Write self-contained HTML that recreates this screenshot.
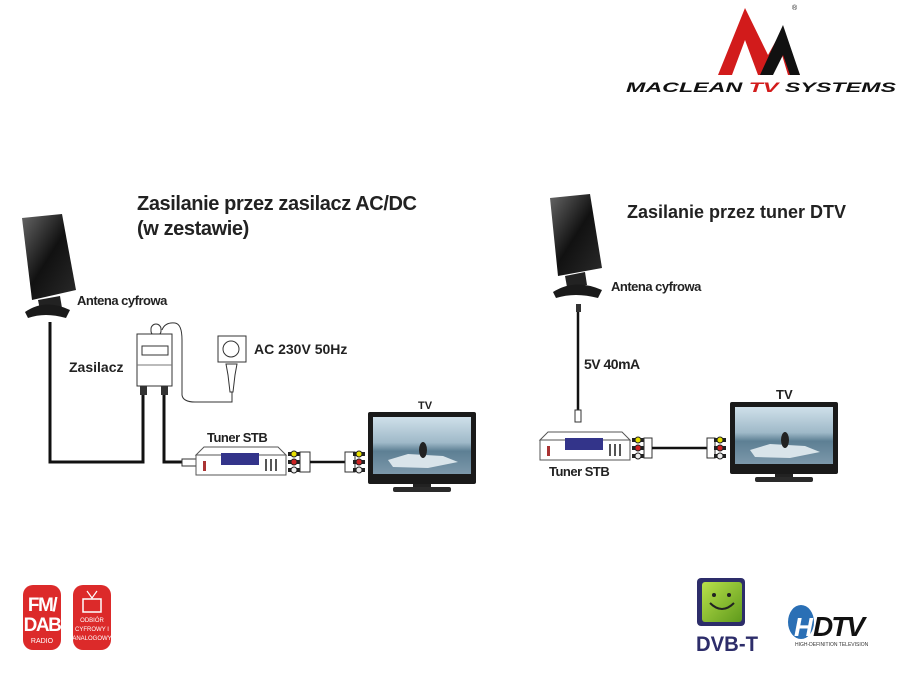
<!DOCTYPE html>
<html><head><meta charset="utf-8"><style>
html,body{margin:0;padding:0;background:#fff;}
svg{display:block;font-family:"Liberation Sans",Arial,sans-serif;}
</style></head><body>
<svg width="900" height="675" viewBox="0 0 900 675" xmlns="http://www.w3.org/2000/svg">
<defs>
<linearGradient id="pan" x1="0" y1="0" x2="1" y2="1"><stop offset="0" stop-color="#666"/><stop offset="0.5" stop-color="#111"/><stop offset="1" stop-color="#2a2a2a"/></linearGradient>
<linearGradient id="scr" x1="0" y1="0" x2="0" y2="1"><stop offset="0" stop-color="#cfe0ea"/><stop offset="0.45" stop-color="#9fb9c8"/><stop offset="0.6" stop-color="#5d7f94"/><stop offset="1" stop-color="#7c98aa"/></linearGradient>
<linearGradient id="grn" x1="0" y1="0" x2="1" y2="1"><stop offset="0" stop-color="#b8e04a"/><stop offset="1" stop-color="#5f9a1c"/></linearGradient>
<g id="tv">
<rect x="0" y="0" width="108" height="72" fill="#1a1a1a" rx="2"/>
<rect x="5" y="5" width="98" height="57" fill="url(#scr)"/>
<path d="M20 48 L40 42 L75 44 L90 50 L60 56 L25 55Z" fill="#d9e4ea"/>
<ellipse cx="55" cy="38" rx="4" ry="8" fill="#222"/>
<rect x="45" y="72" width="18" height="4" fill="#222"/>
<rect x="25" y="75" width="58" height="5" rx="2" fill="#2a2a2a"/>
</g>
<g id="stb">
<path d="M0 8 L8 0 L82 0 L90 8 Z" fill="#fff" stroke="#555" stroke-width="1"/>
<rect x="0" y="8" width="90" height="20" fill="#fff" stroke="#555"/>
<rect x="25" y="6" width="38" height="12" fill="#33348a"/>
<line x1="70" y1="12" x2="70" y2="24" stroke="#555" stroke-width="2"/>
<line x1="75" y1="12" x2="75" y2="24" stroke="#555" stroke-width="2"/>
<line x1="80" y1="12" x2="80" y2="24" stroke="#555" stroke-width="2"/>
<rect x="7" y="14" width="3" height="10" fill="#a33"/>
</g>
<g id="rca">
<rect x="0" y="-2" width="12" height="4" fill="#222"/><circle cx="6" cy="0" r="3" fill="#e8e000" stroke="#222"/>
<rect x="0" y="6" width="12" height="4" fill="#222"/><circle cx="6" cy="8" r="3" fill="#c22" stroke="#222"/>
<rect x="0" y="14" width="12" height="4" fill="#222"/><circle cx="6" cy="16" r="3" fill="#eee" stroke="#222"/>
</g>
</defs>

<!-- Logo -->
<path d="M718 75 L745 8 L768 55 L782 30 L800 75 L788 75 L782 55 L770 75 L758 75 L745 40 L732 75 Z" fill="#d21b1b"/>
<path d="M760 75 L783 25 L800 75 L790 75 L783 55 L773 75Z" fill="#111"/>
<text x="792" y="10" font-size="7" fill="#111">®</text>
<text x="626" y="92" font-size="14" font-weight="bold" font-style="italic" fill="#111" textLength="270" lengthAdjust="spacingAndGlyphs">MACLEAN <tspan fill="#d21b1b">TV</tspan> SYSTEMS</text>

<!-- Left titles -->
<text x="137" y="210" font-size="20" font-weight="bold" fill="#222" letter-spacing="-0.4">Zasilanie przez zasilacz AC/DC</text>
<text x="137" y="235" font-size="20" font-weight="bold" fill="#222" letter-spacing="-0.4">(w zestawie)</text>

<!-- Left antenna -->
<path d="M22 218 L62 214 L76 290 L32 300 Z" fill="url(#pan)"/>
<path d="M38 300 L60 296 L62 308 L40 310Z" fill="#222"/>
<path d="M25 312 Q45 298 70 310 L66 318 Q45 312 28 318Z" fill="#1a1a1a"/>
<text x="77" y="305" font-size="13" font-weight="bold" fill="#222" letter-spacing="-0.5">Antena cyfrowa</text>

<!-- left cables -->
<polyline points="50,322 50,462 143,462 143,392" fill="none" stroke="#111" stroke-width="3"/>
<polyline points="164,392 164,462 183,462" fill="none" stroke="#111" stroke-width="3"/>
<rect x="140" y="385" width="7" height="10" fill="#333"/>
<rect x="161" y="385" width="7" height="10" fill="#333"/>
<rect x="182" y="459" width="14" height="7" fill="#fff" stroke="#333"/>

<!-- Zasilacz -->
<rect x="151" y="324" width="10" height="12" rx="5" fill="#fff" stroke="#333"/>
<rect x="137" y="334" width="35" height="52" fill="#fff" stroke="#333"/>
<rect x="142" y="346" width="26" height="9" fill="#fff" stroke="#333"/>
<line x1="137" y1="365" x2="172" y2="365" stroke="#777"/>
<path d="M162 330 Q165 322 175 323 Q182 324 182 340 L182 395 Q183 402 195 402 L232 402 L232 385" fill="none" stroke="#333" stroke-width="1"/>
<text x="69" y="372" font-size="14" font-weight="bold" fill="#222">Zasilacz</text>

<!-- socket -->
<rect x="218" y="336" width="28" height="26" fill="#fff" stroke="#333"/>
<circle cx="231" cy="349" r="8" fill="#fff" stroke="#333"/>
<path d="M226 364 L237 364 L235 375 L233 392 L230 392 L228 375Z" fill="#fff" stroke="#333"/>
<text x="254" y="354" font-size="14" font-weight="bold" fill="#222">AC 230V 50Hz</text>

<!-- left tuner -->
<text x="207" y="442" font-size="13" font-weight="bold" fill="#222" letter-spacing="-0.5">Tuner STB</text>
<use href="#stb" x="196" y="447"/>
<use href="#rca" x="288" y="454"/>
<rect x="300" y="452" width="10" height="20" fill="none" stroke="#333"/>
<line x1="310" y1="462" x2="345" y2="462" stroke="#111" stroke-width="2.5"/>
<rect x="345" y="452" width="10" height="20" fill="none" stroke="#333"/>
<use href="#rca" x="353" y="454"/>
<use href="#tv" x="368" y="412"/>
<text x="418" y="409" font-size="11" font-weight="bold" fill="#222">TV</text>

<!-- Right side -->
<text x="627" y="218" font-size="18" font-weight="bold" fill="#222">Zasilanie przez tuner DTV</text>
<path d="M550 198 L590 194 L602 268 L558 276 Z" fill="url(#pan)"/>
<path d="M565 276 L585 272 L587 285 L567 287Z" fill="#222"/>
<path d="M553 292 Q575 278 602 290 L598 298 Q575 292 556 298Z" fill="#1a1a1a"/>
<text x="611" y="291" font-size="13" font-weight="bold" fill="#222" letter-spacing="-0.5">Antena cyfrowa</text>
<rect x="576" y="304" width="5" height="8" fill="#333"/>
<line x1="578" y1="312" x2="578" y2="412" stroke="#111" stroke-width="2.5"/>
<rect x="575" y="410" width="6" height="12" fill="#fff" stroke="#333"/>
<text x="584" y="369" font-size="14" font-weight="bold" fill="#222" letter-spacing="-0.5">5V 40mA</text>
<use href="#stb" x="540" y="432"/>
<use href="#rca" x="632" y="440"/>
<rect x="644" y="438" width="8" height="20" fill="none" stroke="#333"/>
<line x1="652" y1="448" x2="707" y2="448" stroke="#111" stroke-width="2.5"/>
<rect x="707" y="438" width="8" height="20" fill="none" stroke="#333"/>
<use href="#rca" x="714" y="440"/>
<text x="549" y="476" font-size="13" font-weight="bold" fill="#222" letter-spacing="-0.5">Tuner STB</text>
<use href="#tv" x="730" y="402"/>
<text x="776" y="399" font-size="13" font-weight="bold" fill="#222">TV</text>

<!-- bottom icons -->
<rect x="23" y="585" width="38" height="65" rx="10" fill="#dc2a2a"/>
<text x="42" y="611" font-size="19" font-weight="bold" fill="#fff" text-anchor="middle" letter-spacing="-1.5">FM/</text>
<text x="42" y="631" font-size="19" font-weight="bold" fill="#fff" text-anchor="middle" letter-spacing="-1.5">DAB</text>
<text x="42" y="643" font-size="7" fill="#fff" text-anchor="middle">RADIO</text>
<rect x="73" y="585" width="38" height="65" rx="10" fill="#dc2a2a"/>
<rect x="83" y="599" width="18" height="13" fill="none" stroke="#fff" stroke-width="1.5"/>
<path d="M87 591 L92 598 L97 591" fill="none" stroke="#fff" stroke-width="1.2"/>
<text x="92" y="622" font-size="6" fill="#fff" text-anchor="middle">ODBIÓR</text>
<text x="92" y="631" font-size="6" fill="#fff" text-anchor="middle">CYFROWY I</text>
<text x="92" y="640" font-size="6" fill="#fff" text-anchor="middle">ANALOGOWY</text>

<!-- DVB-T -->
<rect x="697" y="578" width="48" height="48" rx="4" fill="#2d2d6a"/>
<rect x="702" y="582" width="40" height="40" rx="3" fill="url(#grn)"/>
<circle cx="714" cy="595" r="2" fill="#222"/><circle cx="729" cy="595" r="2" fill="#222"/>
<path d="M710 603 Q722 615 734 603" fill="none" stroke="#222" stroke-width="2"/>
<text x="696" y="651" font-size="21" font-weight="bold" fill="#2d2d6a" textLength="62" lengthAdjust="spacingAndGlyphs">DVB-T</text>

<!-- HDTV -->
<ellipse cx="801" cy="622" rx="13" ry="17" fill="#2a6fb5"/>
<text x="794" y="636" font-size="26" font-weight="bold" font-style="italic" fill="#fff">H</text>
<text x="813" y="636" font-size="28" font-weight="bold" font-style="italic" fill="#111" letter-spacing="-2">DTV</text>
<text x="795" y="646" font-size="5" fill="#333">HIGH-DEFINITION TELEVISION</text>
</svg>
</body></html>
